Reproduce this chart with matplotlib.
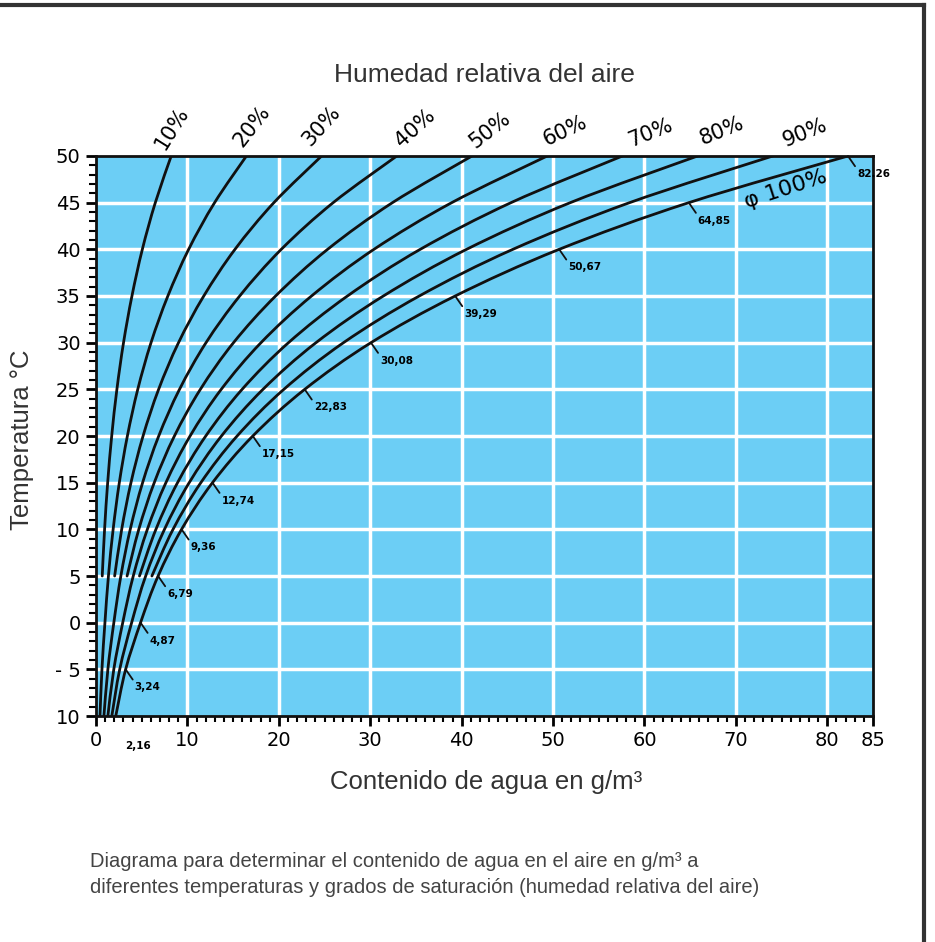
import numpy as np
import matplotlib.pyplot as plt
from matplotlib.lines import Line2D
from matplotlib.path import Path
from matplotlib.patches import PathPatch
from matplotlib.ticker import MultipleLocator, FixedLocator

# Temperaturas y contenido de agua en saturación (100%)
temperaturas = [-10, -5, 0, 5, 10, 15, 20, 25, 30, 35, 40, 45, 50]
saturacion = [2.16, 3.24, 4.87, 6.79, 9.36, 12.74, 17.15, 22.83, 30.08,
              39.29, 50.67, 64.85, 82.26]
etiquetas_sat = ['2,16', '3,24', '4,87', '6,79', '9,36', '12,74', '17,15',
                 '22,83', '30,08', '39,29', '50,67', '64,85', '82.26']
humedades = [10, 20, 30, 40, 50, 60, 70, 80, 90, 100]
x_ticks = [0, 10, 20, 30, 40, 50, 60, 70, 80, 85]
y_ticks = [-10, -5, 0, 5, 10, 15, 20, 25, 30, 35, 40, 45, 50]
y_ticklabels = ['10', '- 5', '0', '5', '10', '15', '20', '25', '30', '35',
                '40', '45', '50']

titulos = ['Liberation Sans', 'DejaVu Sans']


def curva_suave(ax, xs, ys, **kw):
    # trazo suave (Catmull-Rom) que pasa por los puntos dados
    p = np.column_stack([xs, ys])
    q = np.vstack([p[0], p, p[-1]])
    verts = [p[0]]
    codes = [Path.MOVETO]
    for i in range(1, len(q) - 2):
        c1 = q[i] + (q[i + 1] - q[i - 1]) / 6
        c2 = q[i + 1] - (q[i + 2] - q[i]) / 6
        verts += [c1, c2, q[i + 1]]
        codes += [Path.CURVE4] * 3
    ax.add_patch(PathPatch(Path(verts, codes), fill=False, **kw))


azul = '#6ccef5'
fig = plt.figure(figsize=(9.35, 9.42), dpi=100)
ax = fig.add_axes([0.1027, 0.2399, 0.831, 0.5945])
ax.set_facecolor(azul)
ax.set_xlim(0, 85)
ax.set_ylim(-10, 50)

# rejilla blanca
for gx in [10, 20, 30, 40, 50, 60, 70, 80]:
    ax.axvline(gx, color='white', lw=2.5, zorder=1)
for gy in y_ticks[1:-1]:
    ax.axhline(gy, color='white', lw=2.5, zorder=1)

T = np.array(temperaturas)
S = np.array(saturacion)

# curvas de humedad relativa
for h in humedades:
    x = S * h / 100
    if h % 20 == 10:
        # las impares empiezan en 5 °C
        curva_suave(ax, x[3:], T[3:], color='#111111', lw=2, zorder=3,
                    capstyle='round')
    else:
        curva_suave(ax, x, T, color='#111111', lw=2, zorder=3,
                    capstyle='round')

# etiquetas de humedad arriba
desp_x = [0.1, 0.6, 0.0, 2.0, 2.0, 1.9, 3.1, 2.7, 3.5]
pos_y = [53.0, 53.2, 53.2, 53.0, 52.8, 52.7, 52.5, 52.7, 52.5]
rot = [58, 52, 48, 42, 38, 25, 22, 22, 22]
for h, dx, yy, r in zip(humedades[:-1], desp_x, pos_y, rot):
    ax.text(S[-1] * h / 100 + dx, yy, f'{h}%', rotation=r, fontsize=15,
            ha='center', va='center', rotation_mode='anchor', clip_on=False)
ax.text(75.4, 46.4, 'φ 100%', rotation=18, fontsize=16, ha='center',
        va='center', rotation_mode='anchor')

# valores de saturación
for t, s, lab in zip(temperaturas[1:], saturacion[1:], etiquetas_sat[1:]):
    ax.annotate(lab, xy=(s, t), xytext=(9, -18), textcoords='offset pixels',
                fontsize=7.5, fontweight='bold', ha='left', va='center',
                arrowprops=dict(arrowstyle='-', lw=1.3, color='#111111',
                                shrinkA=0, shrinkB=0, relpos=(0, 1)),
                zorder=4)
ax.text(saturacion[0] + 2.4, -13.2, etiquetas_sat[0], fontsize=7.5,
        fontweight='bold', ha='center', va='center', clip_on=False)

# ejes y marcas
for sp in ax.spines.values():
    sp.set_linewidth(2)
    sp.set_color('#111111')
ax.xaxis.set_major_locator(FixedLocator(x_ticks))
ax.xaxis.set_minor_locator(MultipleLocator(1))
ax.yaxis.set_major_locator(FixedLocator(y_ticks))
ax.yaxis.set_minor_locator(MultipleLocator(1))
ax.set_yticklabels(y_ticklabels)
ax.tick_params(which='major', length=7, width=2, labelsize=14, pad=4)
ax.tick_params(which='minor', length=4, width=1.5)
ax.tick_params(axis='y', which='minor', length=5)

ax.set_xlabel('Contenido de agua en g/m³', fontsize=18.5, color='#333333',
              family=titulos)
ax.xaxis.set_label_coords(0.502, -0.096)
ax.set_ylabel('Temperatura °C', fontsize=18.5, color='#333333', family=titulos)
ax.yaxis.set_label_coords(-0.080, 0.493)
ax.text(42.5, 58.7, 'Humedad relativa del aire', fontsize=19,
        color='#333333', ha='center', va='center', family=titulos)

fig.text(0.096, 0.0717, 'Diagrama para determinar el contenido de agua en el aire en g/m³ a\n'
         'diferentes temperaturas y grados de saturación (humedad relativa del aire)',
         fontsize=14.5, color='#444444', ha='left', va='center', linespacing=1.45,
         family=titulos)

# marco exterior
fig.add_artist(Line2D([0, 0.988], [0.995, 0.995], color='#333333', lw=3))
fig.add_artist(Line2D([0.988, 0.988], [0, 0.995], color='#333333', lw=3))

fig.savefig('out.png', dpi=100)
